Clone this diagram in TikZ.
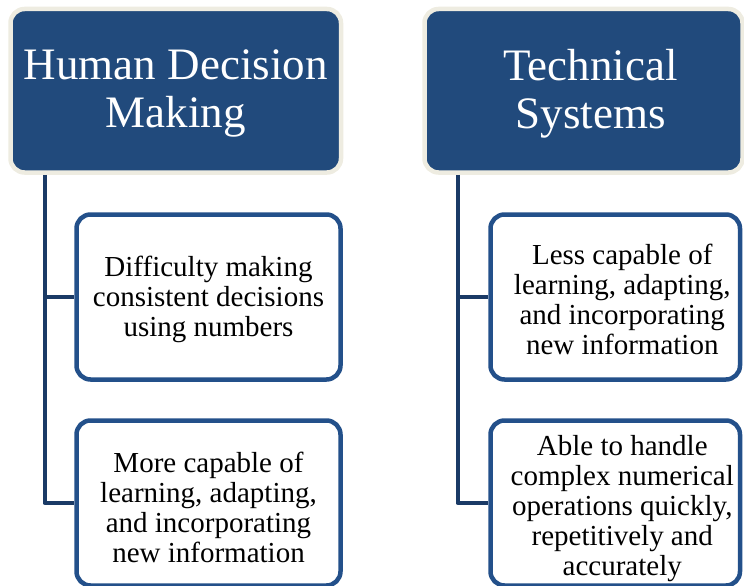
\documentclass[tikz,border=0pt]{standalone}
\usepackage{fontspec}
\setmainfont{Liberation Serif}
\usetikzlibrary{calc,positioning}
\definecolor{headblue}{HTML}{214A7C}
\definecolor{rimbeige}{HTML}{EEECE1}
\definecolor{boxblue}{HTML}{23508A}
\definecolor{linkblue}{HTML}{1A3A66}

\begin{document}
\begin{tikzpicture}[x=1pt,y=-1pt,line join=round]
  \tikzstyle{headbox}=[rectangle,rounded corners=14pt,fill=headblue,draw=rimbeige,
                       line width=4.5pt,minimum height=163.5pt,inner sep=0pt]
  \tikzstyle{headtext}=[text=white,align=center,font=\fontsize{45}{48}\selectfont]
  \tikzstyle{itembox}=[rectangle,rounded corners=14pt,fill=white,draw=boxblue,
                       line width=4.5pt,minimum height=165pt,inner sep=0pt]
  \tikzstyle{itemtext}=[text=black,align=center,font=\fontsize{29}{30}\selectfont]
  \tikzstyle{link}=[draw=linkblue,line width=4pt]

  \useasboundingbox (0,0) rectangle (744,586);

  % human side
  \node[headbox,minimum width=330.5pt] (hdm) at (175.75,90.75) {};
  \node[headtext] (hdmtext) at ($(hdm.center)+(0,3)$) {Human Decision\\Making};
  \node[itembox,minimum width=264pt] (diff) at (208.5,297) {};
  \node[itembox,minimum width=264pt] (more) at (208.5,503) {};
  \node[itemtext] (difftext) at ($(diff.center)+(0,2)$) {Difficulty making\\consistent decisions\\using numbers};
  \node[itemtext] (moretext) at ($(more.center)+(0,4)$) {More capable of\\learning, adapting,\\and incorporating\\new information};

  % technical side
  \node[headbox,minimum width=318pt] (tech) at (583.5,90.75) {};
  \node[headtext] (techtext) at ($(tech.center)+(7,3)$) {Technical\\Systems};
  \node[itembox,minimum width=249.5pt] (less) at (615.25,297) {};
  \node[itembox,minimum width=249.5pt] (able) at (615.25,503) {};
  \node[itemtext] (lesstext) at ($(less.center)+(7,2)$) {Less capable of\\learning, adapting,\\and incorporating\\new information};
  \node[itemtext] (abletext) at ($(able.center)+(7,6)$) {Able to handle\\complex numerical\\operations quickly,\\repetitively and\\accurately};

  \coordinate (hdmtrunk) at ($(hdm.south west)+(36.25,0)$);
  \coordinate (techtrunk) at ($(tech.south west)+(35.25,0)$);

  \path[link] (hdmtrunk) |- (diff.west)
              (hdmtrunk) |- (more.west)
              (techtrunk) |- (less.west)
              (techtrunk) |- (able.west);
\end{tikzpicture}
\end{document}
